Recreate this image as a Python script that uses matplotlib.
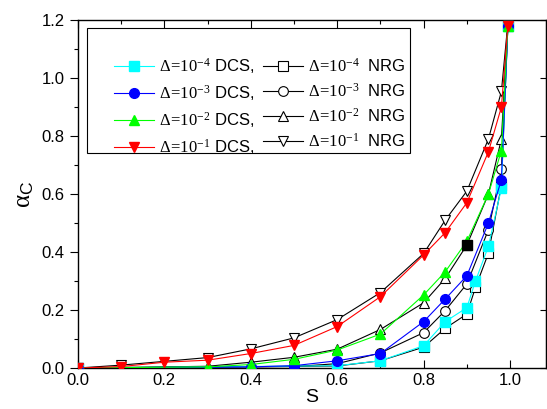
import matplotlib
matplotlib.use('Agg')
import matplotlib.pyplot as plt
from matplotlib.patches import Rectangle
from matplotlib.ticker import MultipleLocator, FormatStrFormatter

plt.rcParams['font.family'] = ['Liberation Sans', 'DejaVu Sans']
plt.rcParams['mathtext.fontset'] = 'custom'
plt.rcParams['mathtext.rm'] = 'Liberation Serif'
plt.rcParams['mathtext.it'] = 'Liberation Serif:italic'
plt.rcParams['mathtext.sf'] = 'Liberation Sans'

# data
s_dcs_4 = [0, 0.6, 0.7, 0.8, 0.85, 0.9, 0.92, 0.95, 0.98, 0.995]
a_dcs_4 = [0, 0.008, 0.025, 0.077, 0.16, 0.208, 0.30, 0.42, 0.62, 1.18]
s_nrg_4 = [0, 0.6, 0.7, 0.8, 0.85, 0.9, 0.92, 0.95, 0.98, 0.995]
a_nrg_4 = [0, 0.007, 0.025, 0.072, 0.137, 0.186, 0.278, 0.396, 0.63, 1.18]

s_dcs_3 = [0, 0.4, 0.5, 0.6, 0.7, 0.8, 0.85, 0.9, 0.95, 0.98, 0.995]
a_dcs_3 = [0, 0.004, 0.008, 0.025, 0.05, 0.16, 0.238, 0.318, 0.50, 0.65, 1.18]
s_nrg_3 = [0, 0.5, 0.6, 0.7, 0.8, 0.85, 0.9, 0.95, 0.98, 0.995]
a_nrg_3 = [0, 0.005, 0.015, 0.052, 0.122, 0.198, 0.29, 0.477, 0.685, 1.18]

s_dcs_2 = [0, 0.3, 0.4, 0.5, 0.6, 0.7, 0.8, 0.85, 0.9, 0.95, 0.98, 0.995]
a_dcs_2 = [0, 0.004, 0.012, 0.03, 0.062, 0.117, 0.252, 0.332, 0.437, 0.60, 0.75, 1.18]
s_nrg_2 = [0, 0.3, 0.4, 0.5, 0.6, 0.7, 0.8, 0.85, 0.9, 0.95, 0.98, 0.995]
a_nrg_2 = [0, 0.006, 0.02, 0.037, 0.065, 0.133, 0.225, 0.309, 0.424, 0.60, 0.79, 1.19]

s_dcs_1 = [0, 0.1, 0.2, 0.3, 0.4, 0.5, 0.6, 0.7, 0.8, 0.85, 0.9, 0.95, 0.98, 0.995]
a_dcs_1 = [0, 0.005, 0.02, 0.027, 0.05, 0.078, 0.143, 0.246, 0.39, 0.467, 0.57, 0.746, 0.90, 1.18]
s_nrg_1 = [0, 0.1, 0.3, 0.4, 0.5, 0.6, 0.7, 0.8, 0.85, 0.9, 0.95, 0.98, 0.995]
a_nrg_1 = [0, 0.01, 0.036, 0.066, 0.104, 0.167, 0.26, 0.395, 0.51, 0.61, 0.79, 0.954, 1.19]

deltas = ['-4', '-3', '-2', '-1']
colors = ['#00FFFF', '#0000FF', '#00FF00', '#FF0000']
markers = ['s', 'o', '^', 'v']
dcs = [(s_dcs_4, a_dcs_4), (s_dcs_3, a_dcs_3), (s_dcs_2, a_dcs_2), (s_dcs_1, a_dcs_1)]
nrg = [(s_nrg_4, a_nrg_4), (s_nrg_3, a_nrg_3), (s_nrg_2, a_nrg_2), (s_nrg_1, a_nrg_1)]

fig = plt.figure(figsize=(5.47, 4.09), dpi=100)
ax = fig.add_axes([0.1426, 0.1002, 0.8554, 0.8508])

h_dcs, h_nrg, l_dcs, l_nrg = [], [], [], []
for (sd, ad), (sn, an), c, m, d in zip(dcs, nrg, colors, markers, deltas):
    ln, = ax.plot(sn, an, color='black', lw=0.8, marker=m, ms=7,
                  mfc='white', mec='black', mew=0.8, zorder=2)
    ld, = ax.plot(sd, ad, color=c, lw=0.8, marker=m, ms=7,
                  mfc=c, mec=c, zorder=3)
    h_dcs.append(ld)
    h_nrg.append(ln)
    l_dcs.append(rf'$\mathrm{{\Delta\!=\!10}}^{{{d}}}$ DCS,')
    l_nrg.append(rf'$\mathrm{{\Delta\!=\!10}}^{{{d}}}$  NRG')

# stray filled black square on the Delta=1e-2 NRG curve at s=0.9
i9 = s_nrg_2.index(0.9)
ax.plot(s_nrg_2[i9], a_nrg_2[i9], 's', color='black', ms=6.5, zorder=4)

# legend content without frame, frame drawn as a separate box
leg = ax.legend(h_dcs + h_nrg, l_dcs + l_nrg, ncol=2, loc='center left',
                bbox_to_anchor=(0.078, 0.752), fontsize=12, frameon=False,
                handlelength=2.4, handletextpad=0.3, columnspacing=0.5,
                labelspacing=0.42, borderpad=0, borderaxespad=0)
ax.add_patch(Rectangle((0.0186, 0.618), 0.690, 0.359, transform=ax.transAxes,
                       fill=False, edgecolor='black', lw=0.8, zorder=5))

ax.set_xlim(0, 1.083)
ax.set_ylim(0, 1.2)
ax.xaxis.set_major_locator(MultipleLocator(0.2))
ax.xaxis.set_minor_locator(MultipleLocator(0.1))
ax.yaxis.set_major_locator(MultipleLocator(0.2))
ax.yaxis.set_minor_locator(MultipleLocator(0.1))
ax.xaxis.set_major_formatter(FormatStrFormatter('%.1f'))
ax.yaxis.set_major_formatter(FormatStrFormatter('%.1f'))
ax.tick_params(axis='x', which='both', direction='in', top=True, labelsize=12)
ax.tick_params(axis='y', which='both', direction='out', labelsize=12)
ax.tick_params(which='major', length=6, width=0.8)
ax.tick_params(which='minor', length=3, width=0.8)
for sp in ax.spines.values():
    sp.set_linewidth(1.0)

# inward ticks on the right side
axr = ax.secondary_yaxis('right')
axr.yaxis.set_major_locator(MultipleLocator(0.2))
axr.tick_params(direction='in', length=4, labelright=False)

ax.set_xlabel('S', fontsize=14, labelpad=1)
ax.set_ylabel(r'$\mathrm{\alpha}_{\mathsf{C}}$', fontsize=18, labelpad=4)

fig.savefig('out.png', dpi=100)
